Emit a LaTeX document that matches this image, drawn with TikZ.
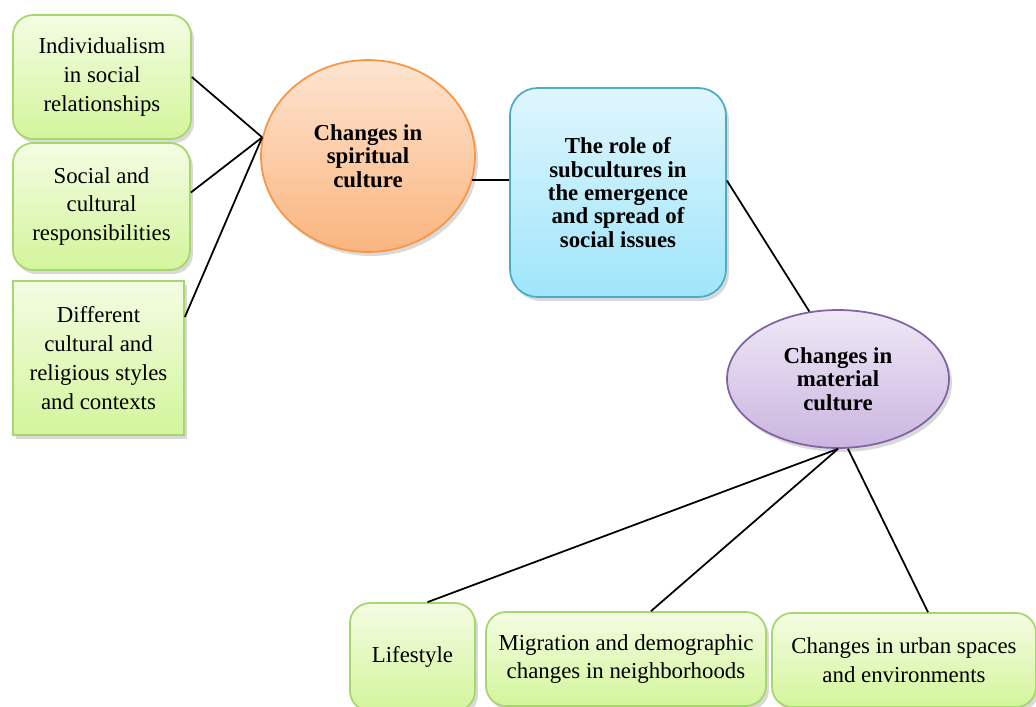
\documentclass[tikz,border=0pt]{standalone}
\usepackage{fontspec}
\setmainfont{Liberation Serif}
\usetikzlibrary{shapes.geometric,shadows,positioning,calc}
\definecolor{leafdraw}{HTML}{A6D66E}
\definecolor{leaftop}{HTML}{F4FCE3}
\definecolor{leafbot}{HTML}{D3F59B}
\definecolor{spiritdraw}{HTML}{F79646}
\definecolor{spirittop}{HTML}{FDE4D0}
\definecolor{spiritbot}{HTML}{FBB57E}
\definecolor{roledraw}{HTML}{4BACC6}
\definecolor{roletop}{HTML}{DFF6FD}
\definecolor{rolebot}{HTML}{9FE5FA}
\definecolor{matdraw}{HTML}{8064A2}
\definecolor{mattop}{HTML}{EFE8F6}
\definecolor{matbot}{HTML}{CBB5E0}
\tikzstyle{leaf} = [rectangle, rounded corners=0.4cm, draw=leafdraw, line width=1pt, top color=leaftop, bottom color=leafbot, align=center, inner sep=0pt, drop shadow={opacity=0.3, shadow xshift=0.06cm, shadow yshift=-0.08cm}, font=\fontsize{13}{16.4}\selectfont]
\tikzstyle{squareleaf} = [leaf, rounded corners=0pt]
\tikzstyle{spiritual} = [ellipse, draw=spiritdraw, line width=1pt, top color=spirittop, bottom color=spiritbot, align=center, inner sep=0pt, drop shadow={opacity=0.3, shadow xshift=0.06cm, shadow yshift=-0.08cm}, font=\fontsize{13}{13.3}\selectfont\bfseries]
\tikzstyle{roleb} = [rectangle, rounded corners=0.55cm, draw=roledraw, line width=1pt, top color=roletop, bottom color=rolebot, align=center, inner sep=0pt, drop shadow={opacity=0.3, shadow xshift=0.06cm, shadow yshift=-0.08cm}, font=\fontsize{13}{13.3}\selectfont\bfseries]
\tikzstyle{materialc} = [spiritual, draw=matdraw, top color=mattop, bottom color=matbot]
\tikzstyle{connector} = [line width=1pt, black]

\begin{document}
\begin{tikzpicture}[x=0.02cm, y=-0.02cm]
\useasboundingbox (0,0) rectangle (1036,707);
\node (indiv) [leaf, minimum width=3.56cm, minimum height=2.48cm] at (102,77) {Individualism\\in social\\relationships};
\node (resp) [leaf, minimum width=3.54cm, minimum height=2.54cm] at (101.5,206.5) {Social and\\cultural\\responsibilities};
\node (diff) [squareleaf, minimum width=3.42cm, minimum height=3.08cm] at (98.5,358) {Different\\cultural and\\religious styles\\and contexts};
\node (spirit) [spiritual, minimum width=4.28cm, minimum height=3.84cm] at (368,156) {Changes in\\spiritual\\culture};
\node (role) [roleb, minimum width=4.32cm, minimum height=4.18cm] at (618,192.5) {The role of\\subcultures in\\the emergence\\and spread of\\social issues};
\node (material) [materialc, minimum width=4.44cm, minimum height=2.76cm] at (838,379) {Changes in\\material\\culture};
\node (life) [leaf, minimum width=2.5cm, minimum height=2.16cm] at (412.5,657) {Lifestyle};
\node (migr) [leaf, minimum width=5.6cm, minimum height=1.88cm] at (626,659) {Migration and demographic\\changes in neighborhoods};
\node (urban) [leaf, minimum width=5.28cm, minimum height=1.88cm] at (904,660) {Changes in urban spaces\\and environments};

\draw [connector] (indiv.east) -- (spirit.170);
\draw [connector] ([yshift=0.28cm]resp.east) -- (spirit.170);
\draw [connector] ([yshift=0.82cm]diff.east) -- (spirit.170);
\draw [connector] (spirit.-13) -- (spirit.-13 -| role.west);
\draw [connector] ([yshift=0.24cm]role.east) -- (material.113);
\draw [connector] (material.south) -- ([xshift=0.3cm]life.north);
\draw [connector] (material.south) -- ([xshift=0.5cm]migr.north);
\draw [connector] ([xshift=0.2cm]material.south) -- ([xshift=0.48cm]urban.north);
\end{tikzpicture}
\end{document}
